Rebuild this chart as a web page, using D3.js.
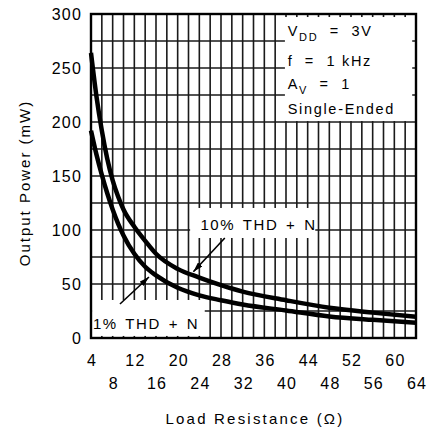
<!DOCTYPE html>
<html>
<head>
<meta charset="utf-8">
<script src="https://cdn.jsdelivr.net/npm/d3@7"></script>
<style>
  body { margin: 0; background: #fff; }
  svg text { font-family: "Liberation Sans", Arial, sans-serif; fill: #000; }
</style>
</head>
<body>
<svg id="chart" width="432" height="430"></svg>
<script>
// load resistance (ohm) and output power (mW)
const loadR = [4, 5, 6, 7, 8, 9, 10, 12, 14, 16, 20, 24, 28, 32, 40, 48, 56, 64]
const thd10 = [264, 224, 192, 166, 146, 131, 119, 103, 90, 78, 64, 56, 49, 43, 35, 28, 23.5, 19.7]
const thd1 = [192, 170, 151, 134, 119, 106, 95, 78, 66, 58, 46.5, 39.5, 35, 31, 25.5, 20, 16.8, 14.2]

const xTicksRow1 = [4, 12, 20, 28, 36, 44, 52, 60]
const xTicksRow2 = [8, 16, 24, 32, 40, 48, 56, 64]
const yTicks = [0, 50, 100, 150, 200, 250, 300]
const xGridStep = 2
const yGridStep = 25

const conditions = ['VDD', 'f = 1 kHz', 'AV', 'Single-Ended']
const curveLabels = ['10% THD + N', '1% THD + N']

const margin = {top: 14, right: 16, bottom: 92, left: 91}
const W = 432, H = 430
const w = W - margin.left - margin.right
const h = H - margin.top - margin.bottom

let svg = d3.select('#chart')

let defs = svg.append('defs')
defs.append('marker')
    .attr('id', 'arrow')
    .attr('viewBox', '0 0 10 6')
    .attr('refX', 10)
    .attr('refY', 3)
    .attr('markerUnits', 'userSpaceOnUse')
    .attr('markerWidth', 10)
    .attr('markerHeight', 6)
    .attr('orient', 'auto')
    .append('path')
    .attr('d', 'M0,0 L10,3 L0,6 Z')
    .attr('fill', '#000')

let g = svg.append('g')
    .attr('transform', `translate(${margin.left},${margin.top})`)

let x = d3.scaleLinear().domain([4, 64]).range([0, w])
let y = d3.scaleLinear().domain([0, 300]).range([h, 0])

// grid
let xGrid = d3.range(x.domain()[0], x.domain()[1] + 0.01, xGridStep)
let yGrid = d3.range(y.domain()[0], y.domain()[1] + 0.01, yGridStep)

g.append('g').selectAll('line')
    .data(xGrid)
    .enter()
    .append('line')
    .attr('x1', d => x(d)).attr('x2', d => x(d))
    .attr('y1', 0).attr('y2', h)
    .attr('stroke', '#1a1a1a')
    .attr('stroke-width', 1.6)

g.append('g').selectAll('line')
    .data(yGrid)
    .enter()
    .append('line')
    .attr('x1', 0).attr('x2', w)
    .attr('y1', d => y(d)).attr('y2', d => y(d))
    .attr('stroke', '#1a1a1a')
    .attr('stroke-width', 1.6)

// curves
let line = d3.line()
    .x((d, i) => x(loadR[i]))
    .y(d => y(d))
    .curve(d3.curveMonotoneX)

g.append('path')
    .datum(thd10)
    .attr('d', line)
    .attr('fill', 'none')
    .attr('stroke', '#000')
    .attr('stroke-width', 4.5)

g.append('path')
    .datum(thd1)
    .attr('d', line)
    .attr('fill', 'none')
    .attr('stroke', '#000')
    .attr('stroke-width', 4.5)

// white label boxes (data units)
let box = function (r0, r1, p0, p1) {
    g.append('rect')
        .attr('x', x(r0))
        .attr('y', y(p0))
        .attr('width', x(r1) - x(r0))
        .attr('height', y(p1) - y(p0))
        .attr('fill', '#fff')
}
box(39.8, 63.3, 297.2, 200.9)
box(22.3, 45.4, 120.4, 92.6)
box(4.2, 25, 35.2, 1.9)

// frame
g.append('rect')
    .attr('width', w)
    .attr('height', h)
    .attr('fill', 'none')
    .attr('stroke', '#000')
    .attr('stroke-width', 2.4)

// axes
let yAxis = g.append('g')
    .call(d3.axisLeft(y).tickValues(yTicks).tickSize(0).tickPadding(9))
yAxis.select('.domain').remove()

let xAxis1 = g.append('g')
    .attr('transform', `translate(0,${h})`)
    .call(d3.axisBottom(x).tickValues(xTicksRow1).tickSize(0).tickPadding(17))
xAxis1.select('.domain').remove()

let xAxis2 = g.append('g')
    .attr('transform', `translate(0,${h})`)
    .call(d3.axisBottom(x).tickValues(xTicksRow2).tickSize(0).tickPadding(40))
xAxis2.select('.domain').remove()

svg.selectAll('.tick text')
    .style('font-family', '"Liberation Sans", Arial, sans-serif')
    .style('font-size', '16px')
    .style('letter-spacing', '1.2px')
    .attr('fill', '#000')
xAxis1.selectAll('.tick text').attr('dx', '0.6px')
xAxis2.selectAll('.tick text').attr('dx', '0.6px')

// axis titles
svg.append('text')
    .attr('x', 255)
    .attr('y', 424)
    .attr('text-anchor', 'middle')
    .style('font-size', '15px')
    .style('letter-spacing', '2.2px')
    .text('Load Resistance (\u03A9)')

svg.append('text')
    .attr('transform', 'translate(30,183) rotate(-90)')
    .attr('text-anchor', 'middle')
    .style('font-size', '15px')
    .style('letter-spacing', '2px')
    .text('Output Power (mW)')

// conditions legend
let legend = g.append('g')
    .style('font-size', '14.5px')
    .style('letter-spacing', '1.7px')

let lx = x(40.3)
let t1 = legend.append('text').attr('x', lx).attr('y', y(279.5))
t1.append('tspan').text('V')
t1.append('tspan').attr('dy', 5).style('font-size', '11px').text('DD')
t1.append('tspan').attr('dy', -5).attr('xml:space', 'preserve').text('  =  3V')

legend.append('text').attr('x', lx).attr('y', y(252)).attr('xml:space', 'preserve').text('f  =  1 kHz')

let t3 = legend.append('text').attr('x', lx).attr('y', y(230.5))
t3.append('tspan').text('A')
t3.append('tspan').attr('dy', 5).style('font-size', '11px').text('V')
t3.append('tspan').attr('dy', -5).attr('xml:space', 'preserve').text('  =  1')

legend.append('text').attr('x', lx).attr('y', y(207.5)).text(conditions[3])

// curve labels
g.append('text')
    .attr('x', x(24.2))
    .attr('y', y(100))
    .style('font-size', '15px')
    .style('letter-spacing', '1.6px')
    .style('word-spacing', '2px')
    .text(curveLabels[0])

g.append('text')
    .attr('x', x(4.35))
    .attr('y', y(8.3))
    .style('font-size', '15px')
    .style('letter-spacing', '1.6px')
    .style('word-spacing', '2px')
    .text(curveLabels[1])

// arrows
let arrow = function (r0, p0, r1, p1) {
    g.append('line')
        .attr('x1', x(r0)).attr('y1', y(p0))
        .attr('x2', x(r1)).attr('y2', y(p1))
        .attr('stroke', '#000')
        .attr('stroke-width', 1.6)
        .attr('marker-end', 'url(#arrow)')
}
arrow(28.7, 92.6, 22.9, 61.4)
arrow(9.35, 31.5, 14.7, 56.5)
</script>
</body>
</html>
